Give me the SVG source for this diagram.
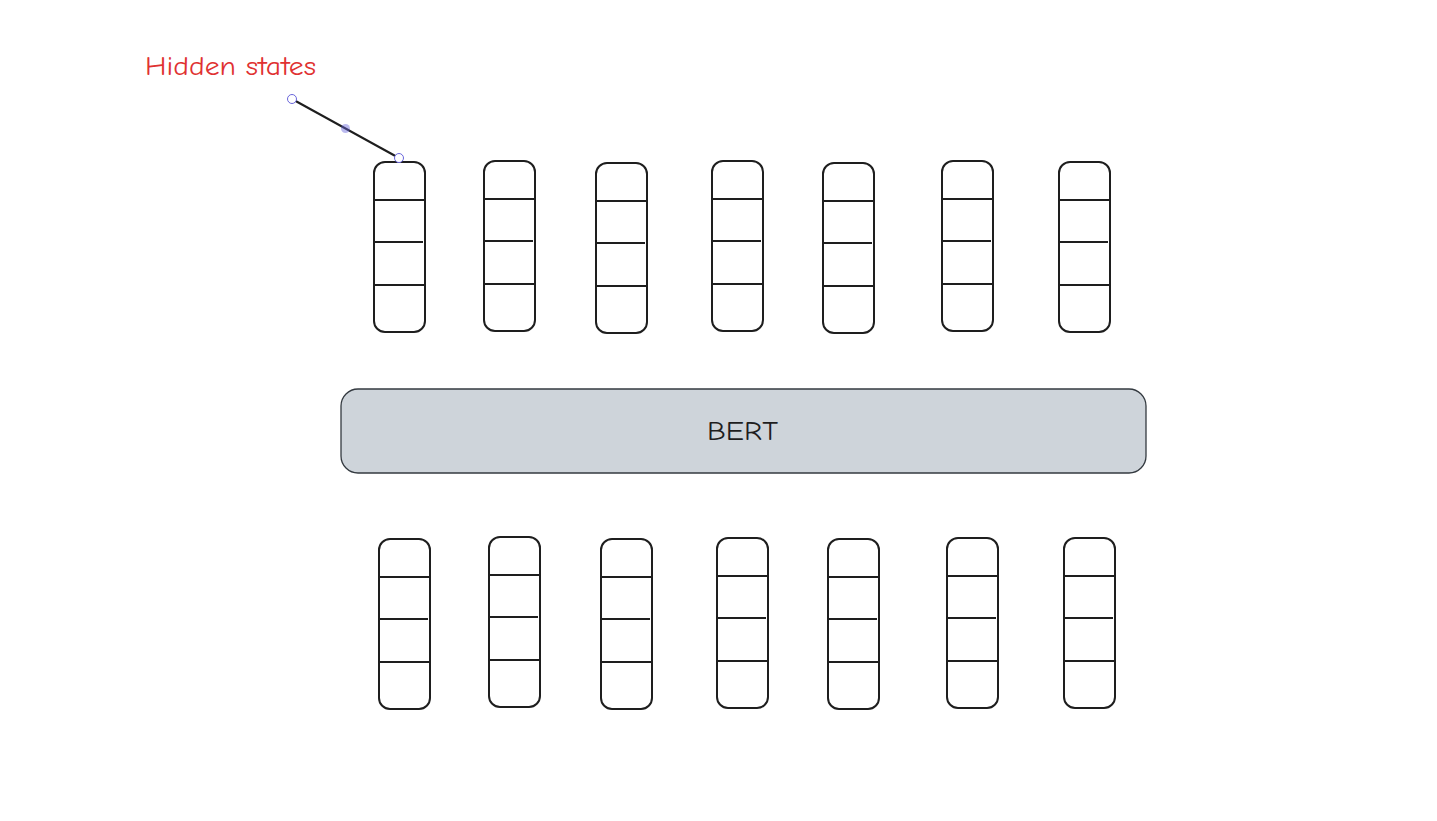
<svg xmlns="http://www.w3.org/2000/svg" width="1437" height="821" viewBox="0 0 1437 821">
<defs>
<style>
.vec{fill:none;stroke:#1e1e1e;stroke-width:2}
.div{stroke:#1e1e1e;stroke-width:2}
.bert{fill:#ced4da;stroke:#343a40;stroke-width:1.3}
.lbl{font-family:"Comic Neue","Liberation Sans",sans-serif;font-size:26px}
.handle{fill:#fff;stroke:#6965db;stroke-width:1}
</style>
<g id="vector">
<rect class="vec" x="0" y="0" width="51" height="170" rx="11"/>
<line class="div" x1="1" y1="38" x2="50" y2="38"/>
<line class="div" x1="1" y1="80" x2="49" y2="80"/>
<line class="div" x1="1" y1="123" x2="50" y2="123"/>
</g>
</defs>
<rect width="1437" height="821" fill="#fff"/>
<g id="top-row">
<use id="h1" href="#vector" x="374" y="162"/>
<use id="h2" href="#vector" x="484" y="161"/>
<use id="h3" href="#vector" x="596" y="163"/>
<use id="h4" href="#vector" x="712" y="161"/>
<use id="h5" href="#vector" x="823" y="163"/>
<use id="h6" href="#vector" x="942" y="161"/>
<use id="h7" href="#vector" x="1059" y="162"/>
</g>
<g id="bert">
<rect class="bert" x="341" y="389" width="805" height="84" rx="17"/>
<text class="lbl" x="707" y="440" textLength="71" lengthAdjust="spacingAndGlyphs" fill="#1e1e1e">BERT</text>
</g>
<g id="bottom-row">
<use id="e1" href="#vector" x="379" y="539"/>
<use id="e2" href="#vector" x="489" y="537"/>
<use id="e3" href="#vector" x="601" y="539"/>
<use id="e4" href="#vector" x="717" y="538"/>
<use id="e5" href="#vector" x="828" y="539"/>
<use id="e6" href="#vector" x="947" y="538"/>
<use id="e7" href="#vector" x="1064" y="538"/>
</g>
<g id="label">
<text class="lbl" x="145" y="75" textLength="171" lengthAdjust="spacingAndGlyphs" fill="#e03131">Hidden states</text>
</g>
<g id="connectors">
<line x1="292" y1="99" x2="399" y2="158" stroke="#1e1e1e" stroke-width="2"/>
<circle class="handle" cx="292" cy="99" r="4.5"/>
<circle cx="345.5" cy="128.5" r="4.5" fill="#6965db" fill-opacity="0.45"/>
<circle class="handle" cx="399" cy="158" r="4.5"/>
</g>
</svg>
